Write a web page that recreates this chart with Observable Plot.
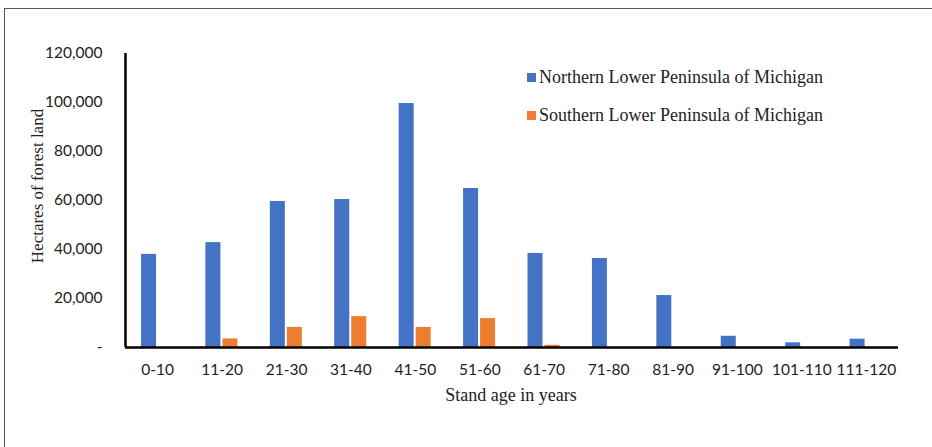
<!DOCTYPE html>
<html>
<head>
<meta charset="utf-8">
<script src="https://cdn.jsdelivr.net/npm/d3@7"></script>
<script src="https://cdn.jsdelivr.net/npm/@observablehq/plot@0.6"></script>
<style>
  html, body { margin: 0; padding: 0; background: #fff; }
  #wrap { position: relative; width: 932px; height: 447px; overflow: hidden; }
  #frame { position: absolute; left: 4px; top: 8px; width: 1000px; height: 1000px;
           border-top: 1px solid #555; border-left: 1px solid #555; pointer-events: none; }
  #chart { position: absolute; left: 0; top: 0; }
  .legend { position: absolute; left: 527px; font-family: "Liberation Serif", "Times New Roman", serif;
            font-size: 18px; color: #222; white-space: nowrap; }
  .legend .sw { display: inline-block; width: 9px; height: 9px; margin-right: 3px; vertical-align: 1px; }
  #ytitle { position: absolute; left: 38px; top: 186px; transform: translate(-50%, -50%) rotate(-90deg);
            font-family: "Liberation Serif", "Times New Roman", serif; font-size: 17px; color: #222; white-space: nowrap; }
  #xtitle { position: absolute; left: 511px; top: 395px; transform: translate(-50%, -50%);
            font-family: "Liberation Serif", "Times New Roman", serif; font-size: 18px; color: #222; white-space: nowrap; }
</style>
</head>
<body>
<div id="wrap">
  <div id="chart"></div>
  <div id="frame"></div>
  <div id="ytitle">Hectares of forest land</div>
  <div id="xtitle">Stand age in years</div>
  <div class="legend" style="top:67px"><span class="sw" style="background:#4472C4"></span>Northern Lower Peninsula of Michigan</div>
  <div class="legend" style="top:105px"><span class="sw" style="background:#ED7D31"></span>Southern Lower Peninsula of Michigan</div>
</div>
<script>
const categories = ["0-10","11-20","21-30","31-40","41-50","51-60","61-70","71-80","81-90","91-100","101-110","111-120"];
const northern = [38000, 42800, 59600, 60400, 99600, 64900, 38400, 36300, 21200, 4600, 1900, 3400];
const southern = [0, 3500, 8200, 12600, 8200, 11800, 900, 0, 0, 0, 0, 0];
const yTicks = [0, 20000, 40000, 60000, 80000, 100000, 120000];

const nData = categories.map((c, i) => ({cat: c, value: northern[i]}));
const sData = categories.map((c, i) => ({cat: c, value: southern[i]}));

const W = 932, H = 447, mL = 125, mR = 34, mT = 53, mB = 100;
const bw = (W - mL - mR) / categories.length;
const tickFont = "Lato, 'Open Sans', sans-serif";

const plot = Plot.plot({
  width: W, height: H,
  marginLeft: mL, marginRight: mR, marginTop: mT, marginBottom: mB,
  style: {fontFamily: tickFont, fontSize: "15px", color: "#222", background: "transparent", overflow: "visible"},
  x: {domain: categories, padding: 0, round: false, label: null},
  y: {domain: [0, 120000], label: null},
  marks: [
    Plot.barY(nData, {x: "cat", y: "value", fill: "#4472C4", insetLeft: 16, insetRight: bw - 31}),
    Plot.barY(sData.filter(d => d.value > 0), {x: "cat", y: "value", fill: "#ED7D31", insetLeft: 33, insetRight: bw - 48}),
    Plot.ruleY([0], {stroke: "#000", strokeWidth: 2.5}),
    Plot.ruleX([categories[0]], {y1: 0, y2: 120000, dx: -bw / 2, stroke: "#000", strokeWidth: 2.5}),
    Plot.axisY({ticks: yTicks, tickSize: 0, tickPadding: 23,
      tickFormat: d => d === 0 ? "-" : d3.format(",")(d), label: null, fontSize: 15.5}),
    Plot.axisX({tickSize: 0, tickPadding: 16, label: null, fontSize: 15.5})
  ]
});
document.getElementById("chart").appendChild(plot);
</script>
</body>
</html>
